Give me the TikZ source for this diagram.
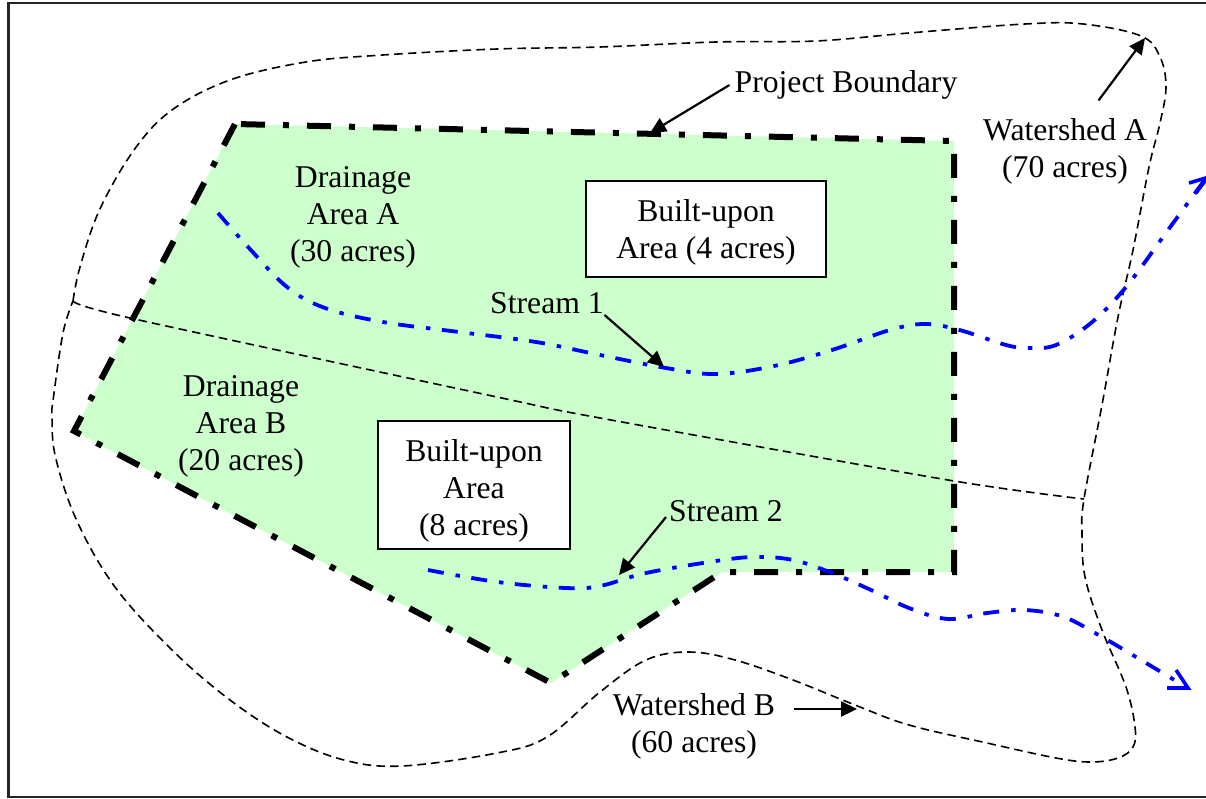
\documentclass[tikz,border=0pt]{standalone}
\usepackage{fontspec}
\setmainfont{Liberation Serif}
\usetikzlibrary{arrows.meta}
\tikzset{
  x=1pt,y=-1pt,
  label text/.style={font=\fontsize{31.7}{37}\selectfont,align=center,inner sep=0pt,text=black},
  built box/.style={draw=black,fill=white,line width=2.2pt,inner sep=0pt,minimum width=0pt},
  area line/.style={line width=1.6pt,dash pattern=on 8.5pt off 5.2pt,black},
  boundary/.style={line width=6pt,dash pattern=on 24pt off 18pt on 6pt off 18pt,dash phase=60pt,black},
  stream/.style={line width=3.8pt,dash pattern=on 16pt off 12pt on 4.5pt off 11.5pt,draw={rgb,255:red,0;green,0;blue,255}},
  pointer/.style={line width=2.2pt,black,-{Triangle[length=16pt,width=15pt]}}
}
\begin{document}
\begin{tikzpicture}
\useasboundingbox (0,0) rectangle (1206,799);
\clip (0,0) rectangle (1206,799);
\fill[white] (0,0) rectangle (1206,799);
\draw[line width=2.4pt,black!85] (8.5,3.2) rectangle (1240,797);
\fill[fill={rgb,255:red,204;green,255;blue,204}] (235,124) -- (954,141) -- (954,572) -- (722,572) -- (551,683) -- (74,431) -- cycle;
% watersheds
\draw[area line] plot[smooth,tension=0.6] coordinates {(73,301) (80,267) (99.5,210) (134,150) (172,110) (230,80) (306,62) (383,55) (497,49) (600,47) (716,42) (816,41) (909,33) (1025,24) (1083,24) (1141,36) (1160,57) (1166,87) (1160,123) (1149,167) (1133,250) (1118,317) (1102,405) (1084,499) (1082,533) (1085,577) (1102,630) (1126,687) (1135,727) (1133,747) (1118,758) (1091,762) (1056,758) (987,743) (909,725) (855,705) (793,680) (735,660) (689,652) (646,660) (600,692) (547,737) (497,753) (402,766) (344,760) (287,737) (230,700) (172,650) (115,587) (76.5,520) (55.5,457) (52,417) (53.5,397) (63,333) (73,301)};
\draw[area line] plot[smooth,tension=0.5] coordinates {(73,301) (130,318) (497,397) (600,418) (948,480) (1084,499)};
% boundary
\draw[boundary] (235,124) -- (954,141) -- (954,572) -- (722,572) -- (551,683) -- (74,431) -- (235,124);
% streams
\draw[stream] plot[smooth,tension=0.6] coordinates {(218,213) (249,248) (287,287) (325,308) (383,322) (459,332) (536,342) (600,355) (666,368) (716,374) (774,366) (832,350) (890,330) (925,324) (959.5,330) (1006,345) (1029,348) (1056,345) (1091,323) (1126,287) (1168,230) (1206,178)};
\draw[stream] plot[smooth,tension=0.6] coordinates {(428,570) (497.5,582) (566,588) (600,586) (646,573) (716,561) (755,557) (793,560) (832,573) (871,590) (909,608) (948,619) (987,613) (1025,610) (1064,617) (1102,637) (1141,660) (1186,687)};
\draw[line width=3.6pt,draw={rgb,255:red,0;green,0;blue,255},miter limit=10] (1196,193) -- (1207.5,177.5) -- (1189,183);
\draw[line width=3.6pt,draw={rgb,255:red,0;green,0;blue,255},miter limit=10] (1176,670) -- (1188,688) -- (1167,688);
% boxes
\node[built box,label text,minimum width=240pt,minimum height=96pt] (boxa) at (706,229) {\rule{0pt}{28.6pt}Built-upon\\Area (4 acres)};
\node[built box,label text,minimum width=192pt,minimum height=128pt] (boxb) at (474,485) {\rule{0pt}{33.6pt}Built-upon\\Area\\(8 acres)};
% labels
\node[label text] (da) at (353,217.5) {Drainage\\Area A\\(30 acres)};
\node[label text] (db) at (241,426) {Drainage\\Area B\\(20 acres)};
\node[label text] (pb) at (846,85) {Project Boundary};
\node[label text] (wa) at (1065,151) {Watershed A\\(70 acres)};
\node[label text] (wb) at (694,726.5) {Watershed B\\(60 acres)};
\node[label text] (s1) at (547,303) {Stream 1};
\node[label text] (s2) at (726,511) {Stream 2};
% pointers
\coordinate (pbs) at (729.5,85); \coordinate (pbe) at (650,133);
\coordinate (was) at (1098.5,100.5); \coordinate (wae) at (1145,38);
\coordinate (s1s) at (604.5,315); \coordinate (s1e) at (664,367);
\coordinate (s2s) at (666,517); \coordinate (s2e) at (619,575);
\coordinate (wbs) at (794,709); \coordinate (wbe) at (857,709);
\draw[pointer] (pbs) -- (pbe);
\draw[pointer] (was) -- (wae);
\draw[pointer] (s1s) -- (s1e);
\draw[pointer] (s2s) -- (s2e);
\draw[pointer] (wbs) -- (wbe);
\end{tikzpicture}
\end{document}
